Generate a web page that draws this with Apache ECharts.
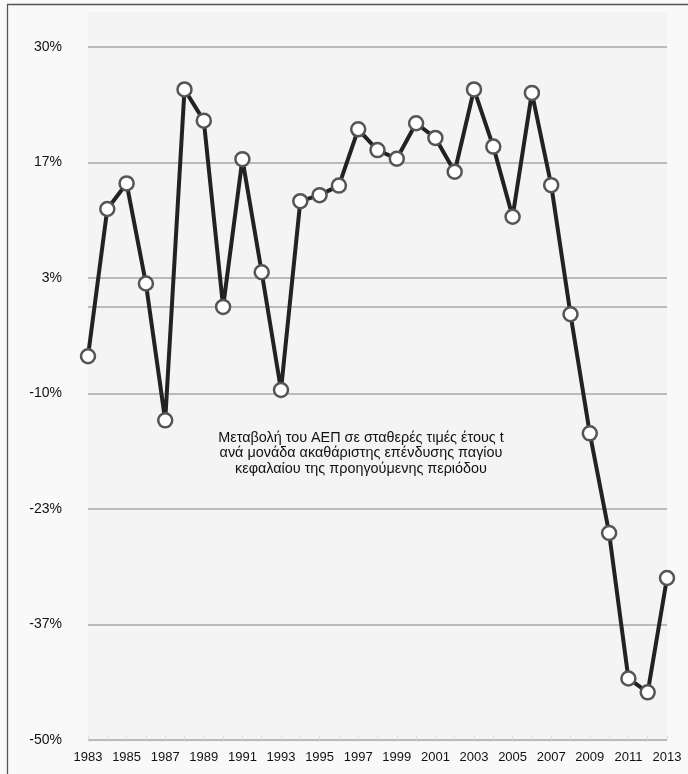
<!DOCTYPE html>
<html>
<head>
<meta charset="utf-8">
<script src="https://cdn.jsdelivr.net/npm/echarts@6/dist/echarts.min.js"></script>
<style>
html,body{margin:0;padding:0;background:#f9f9f9;}
#c{width:688px;height:774px;}
</style>
</head>
<body>
<div id="c"></div>
<script>
const years = [1983,1984,1985,1986,1987,1988,1989,1990,1991,1992,1993,1994,1995,1996,1997,1998,1999,2000,2001,2002,2003,2004,2005,2006,2007,2008,2009,2010,2011,2012,2013];
const values = [-5.7,11.3,14.25,2.7,-13.1,25.1,21.5,0.0,17.05,4.0,-9.6,12.2,12.9,14.0,20.5,18.1,17.1,21.2,19.5,15.6,25.1,18.5,10.4,24.7,14.05,-0.85,-14.6,-26.1,-42.9,-44.5,-31.3];
const yMin = -50, yMax = 30, yStep = 40/3;
const annotation = ['Μεταβολή του ΑΕΠ σε σταθερές τιμές έτους t','ανά μονάδα ακαθάριστης επένδυσης παγίου','κεφαλαίου της προηγούμενης περιόδου'];

const chart = echarts.init(document.getElementById('c'), null, {renderer:'canvas'});
const font = '"Liberation Sans", Arial, Helvetica, sans-serif';
chart.setOption({
  backgroundColor:'#f9f9f9',
  animation:false,
  textStyle:{fontFamily:font},
  graphic:[
    {type:'rect', z:-10, shape:{x:88,y:12,width:579,height:730}, style:{fill:'#f4f4f4'}},
    {type:'rect', z:100, shape:{x:7.5,y:4.5,width:700,height:800}, style:{fill:'none',stroke:'#555',lineWidth:1.3}},
    {type:'text', z:50, x:361, y:430, style:{text:annotation.join('\n'), fontFamily:font, fontSize:14.4, lineHeight:15.5, fill:'#111', align:'center', textAlign:'center'}}
  ],
  grid:{left:88,right:21,top:47,bottom:34,containLabel:false},
  xAxis:{
    type:'category', data:years.map(String), boundaryGap:false,
    axisLine:{show:false, onZero:false},
    axisTick:{show:true, inside:true, length:4, interval:0, lineStyle:{color:'#dcdcdc'}},
    axisLabel:{interval:1, color:'#111', fontSize:13, margin:11, fontFamily:font},
    splitLine:{show:false}
  },
  yAxis:{
    type:'value', min:yMin, max:yMax, interval:yStep,
    axisLine:{show:false}, axisTick:{show:false},
    axisLabel:{color:'#111', fontSize:14, margin:26, fontFamily:font, formatter:v=>Math.round(v)+'%'},
    splitLine:{show:true, lineStyle:{color:'#a9a9a9', width:1.6}}
  },
  series:[{
    type:'line', data:values,
    showSymbol:true, showAllSymbol:true,
    lineStyle:{color:'#222', width:4},
    symbol:'circle', symbolSize:14,
    itemStyle:{color:'#fff', borderColor:'#555', borderWidth:2.5},
    markLine:{silent:true, symbol:['none','none'], label:{show:false},
      lineStyle:{color:'#a9a9a9', width:1.6, type:'solid'},
      data:[{yAxis:0}], z:1},
    z:5
  }]
});
</script>
</body>
</html>
